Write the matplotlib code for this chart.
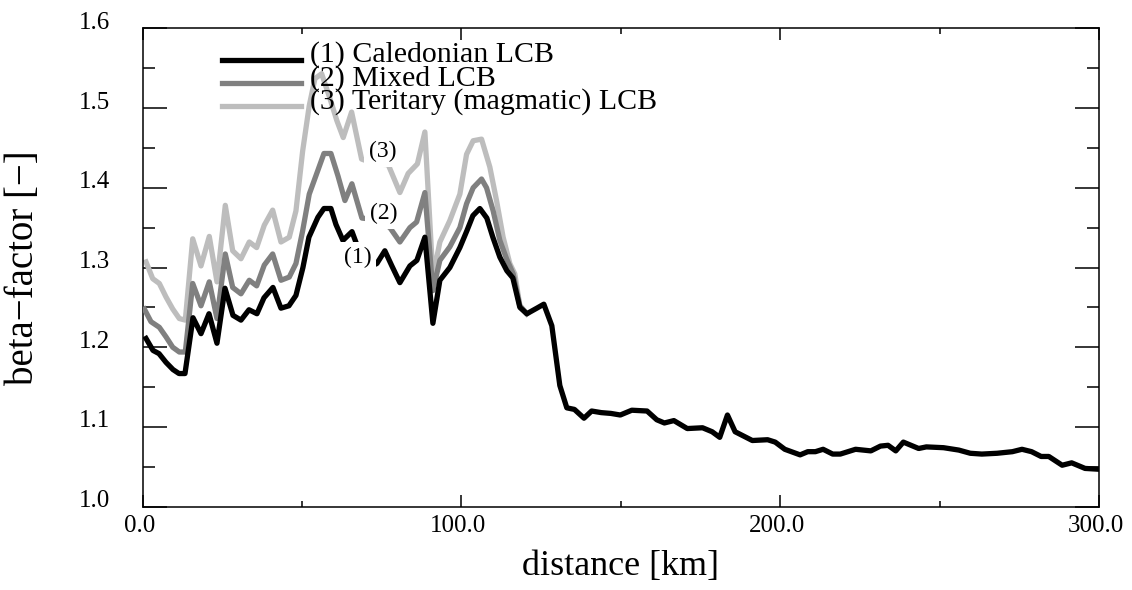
import matplotlib
matplotlib.use("Agg")
import matplotlib.pyplot as plt
import matplotlib.transforms as mtransforms
from matplotlib.ticker import MultipleLocator, FormatStrFormatter

plt.rcParams["font.family"] = ["Liberation Serif", "DejaVu Serif"]

# (1) Caledonian LCB
dist_cal = [1.10, 3.29, 5.17, 7.37, 9.56, 11.44, 13.32, 15.83, 18.34, 20.85,
            23.35, 25.86, 28.37, 30.88, 33.39, 35.89, 38.09, 40.91, 43.42, 45.92,
            48.12, 50.31, 52.19, 55.01, 56.90, 59.09, 60.66, 62.85, 65.70, 68.20,
            70.70, 73.50, 76.00, 78.20, 80.72, 83.86, 86.05, 88.56, 91.07, 93.26,
            96.39, 99.53, 101.72, 103.61, 105.80, 107.99, 109.87, 112.07, 114.26, 116.14,
            118.34, 120.53, 123.67, 125.86, 128.37, 130.88, 133.07, 135.46, 138.46, 140.85,
            143.86, 146.87, 149.84, 153.45, 158.24, 161.29, 163.67, 166.65, 170.85, 175.64,
            178.65, 181.03, 183.45, 185.86, 191.25, 196.05, 198.43, 201.44, 206.24, 208.65,
            211.03, 213.45, 216.46, 218.84, 223.64, 228.43, 231.44, 233.82, 236.24, 238.62,
            243.42, 245.83, 251.22, 256.02, 259.62, 263.23, 268.03, 272.82, 275.83, 278.84,
            281.82, 284.23, 288.43, 291.41, 295.61, 299.81]
beta_cal = [1.211, 1.196, 1.192, 1.181, 1.172, 1.167, 1.167, 1.237, 1.217, 1.242,
            1.205, 1.274, 1.240, 1.234, 1.247, 1.242, 1.262, 1.275, 1.249, 1.252,
            1.265, 1.300, 1.338, 1.363, 1.374, 1.374, 1.354, 1.334, 1.345, 1.318,
            1.300, 1.305, 1.321, 1.302, 1.281, 1.302, 1.309, 1.338, 1.230, 1.284,
            1.300, 1.325, 1.346, 1.365, 1.374, 1.362, 1.338, 1.313, 1.296, 1.287,
            1.250, 1.242, 1.249, 1.254, 1.227, 1.152, 1.124, 1.122, 1.111, 1.120,
            1.118, 1.117, 1.115, 1.121, 1.120, 1.109, 1.105, 1.108, 1.098, 1.099,
            1.094, 1.087, 1.115, 1.094, 1.083, 1.084, 1.081, 1.072, 1.065, 1.069,
            1.069, 1.072, 1.066, 1.066, 1.072, 1.070, 1.076, 1.077, 1.070, 1.081,
            1.073, 1.075, 1.074, 1.071, 1.067, 1.066, 1.067, 1.069, 1.072, 1.069,
            1.063, 1.063, 1.052, 1.055, 1.048, 1.047]

# (2) Mixed LCB
dist_mix = [0.56, 2.66, 5.27, 7.37, 9.47, 11.54, 13.42, 15.74, 18.34, 20.94,
            23.35, 25.96, 28.28, 30.88, 33.48, 35.80, 38.18, 40.82, 43.42, 46.02,
            48.12, 50.22, 52.29, 54.92, 56.90, 59.09, 61.29, 63.48, 65.67, 68.81,
            73.50, 77.59, 80.72, 83.86, 85.96, 88.56, 91.07, 93.26, 96.39, 99.53,
            101.63, 103.70, 106.33, 107.90, 109.97, 112.07, 114.17, 116.24, 118.34, 120.53]
beta_mix = [1.248, 1.232, 1.225, 1.213, 1.200, 1.194, 1.194, 1.280, 1.252, 1.282,
            1.236, 1.317, 1.275, 1.267, 1.284, 1.277, 1.303, 1.317, 1.284, 1.288,
            1.305, 1.346, 1.392, 1.421, 1.443, 1.443, 1.415, 1.384, 1.405, 1.362,
            1.360, 1.350, 1.332, 1.350, 1.357, 1.394, 1.271, 1.309, 1.326, 1.350,
            1.380, 1.400, 1.411, 1.400, 1.371, 1.334, 1.311, 1.292, 1.252, 1.242]

# (3) Teritary (magmatic) LCB
dist_ter = [1.10, 3.20, 5.27, 7.37, 9.47, 11.54, 13.42, 15.74, 18.34, 20.94,
            23.35, 25.96, 28.28, 30.88, 33.48, 35.80, 38.18, 40.82, 43.42, 46.02,
            48.12, 50.22, 52.29, 54.08, 56.18, 58.78, 60.97, 62.95, 65.58, 68.71,
            73.00, 77.05, 80.72, 83.32, 86.21, 88.56, 91.07, 93.26, 96.39, 99.53,
            101.63, 103.70, 106.33, 108.93, 111.03, 113.10, 115.20, 116.77, 118.34, 120.53]
beta_ter = [1.307, 1.286, 1.280, 1.263, 1.248, 1.236, 1.234, 1.336, 1.302, 1.339,
            1.282, 1.378, 1.321, 1.311, 1.332, 1.325, 1.353, 1.372, 1.332, 1.338,
            1.371, 1.446, 1.503, 1.537, 1.543, 1.512, 1.484, 1.463, 1.495, 1.436,
            1.430, 1.429, 1.394, 1.418, 1.430, 1.470, 1.288, 1.332, 1.359, 1.392,
            1.442, 1.459, 1.461, 1.426, 1.384, 1.338, 1.305, 1.292, 1.252, 1.242]

series_names = ["(1) Caledonian LCB", "(2) Mixed LCB", "(3) Teritary (magmatic) LCB"]
curve_tags = ["(1)", "(2)", "(3)"]
tag_x = [67.4, 75.7, 75.2]
tag_y = [1.313, 1.368, 1.445]

fig = plt.figure(figsize=(11.32, 5.90), dpi=100)
ax = fig.add_axes([0.1259, 0.1412, 0.8450, 0.8108])

lw = 3.8
l3, = ax.plot(dist_ter, beta_ter, color="#bdbdbd", lw=lw, zorder=2)
l2, = ax.plot(dist_mix, beta_mix, color="#808080", lw=lw, zorder=3)
l1, = ax.plot(dist_cal, beta_cal, color="black", lw=lw, zorder=4)

for t, x, y in zip(curve_tags, tag_x, tag_y):
    ax.text(x, y, t, fontsize=17, ha="center", va="center", zorder=6,
            bbox=dict(facecolor="white", edgecolor="none", pad=3.5))

leg = ax.legend([l1, l2, l3], series_names, loc="upper left",
                bbox_to_anchor=(0.083, 0.973), frameon=False, fontsize=21.5,
                borderpad=0, borderaxespad=0, handlelength=2.65,
                handletextpad=0.3, labelspacing=-0.14)
leg.set_zorder(5)
# legend strokes sit a bit below the middle of their text
for h in leg.get_lines():
    h.set_ydata(h.get_ydata() - 5.8)

ax.set_xlim(0, 300)
ax.set_ylim(1.0, 1.6)
ax.xaxis.set_major_locator(MultipleLocator(100))
ax.xaxis.set_minor_locator(MultipleLocator(50))
ax.yaxis.set_major_locator(MultipleLocator(0.1))
ax.yaxis.set_minor_locator(MultipleLocator(0.05))
ax.xaxis.set_major_formatter(FormatStrFormatter("%.1f"))
ax.yaxis.set_major_formatter(FormatStrFormatter("%.1f"))

ax.tick_params(axis="y", which="major", direction="in", length=17.3, width=1.1,
               left=True, right=True, labelsize=18, pad=23)
ax.tick_params(axis="y", which="minor", direction="in", length=8.6, width=1.1,
               left=True, right=True)
ax.tick_params(axis="x", which="major", direction="in", length=8.6, width=1.1,
               bottom=True, top=True, labelsize=18, pad=6)
ax.tick_params(axis="x", which="minor", direction="in", length=4.3, width=1.1,
               bottom=True, top=True)
for s in ax.spines.values():
    s.set_linewidth(1.1)

# tick labels sit a little above their ticks in the original
up = mtransforms.ScaledTranslation(0, 0.08, fig.dpi_scale_trans)
for lab in ax.get_yticklabels():
    lab.set_transform(lab.get_transform() + up)
left = mtransforms.ScaledTranslation(-0.03, 0, fig.dpi_scale_trans)
for lab in ax.get_xticklabels():
    lab.set_transform(lab.get_transform() + left)

ax.set_xlabel("distance [km]", fontsize=26)
ax.set_ylabel("beta\u2212factor [\u2212]", fontsize=28)
ax.yaxis.set_label_coords(-0.105, 0.5)
ax.xaxis.set_label_coords(0.5, -0.09)

fig.savefig("out.png", dpi=100)
